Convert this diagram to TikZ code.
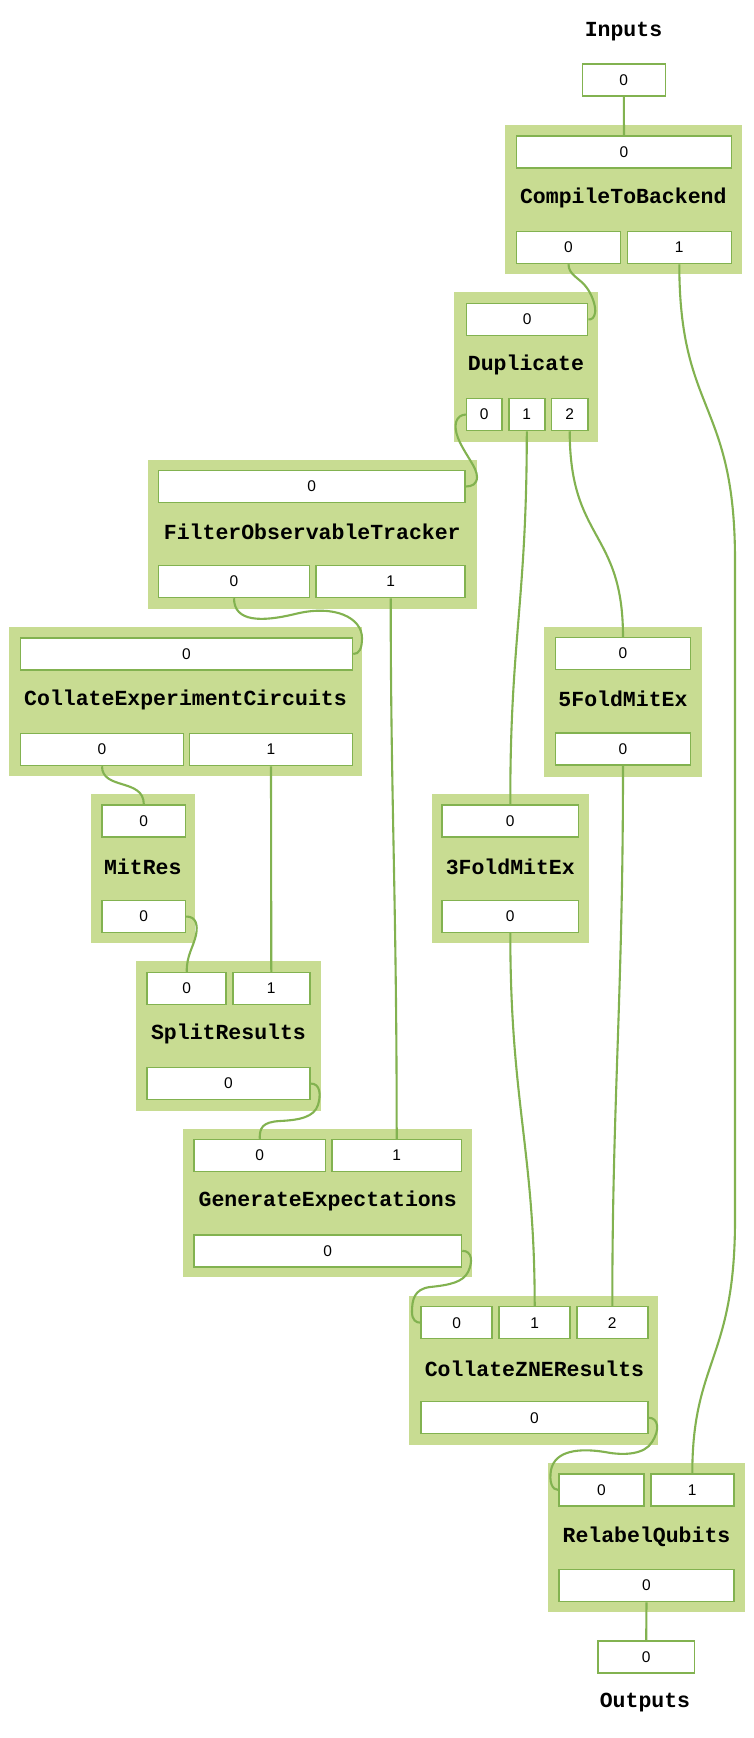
\documentclass[tikz,border=0pt]{standalone}
\usepackage{fontspec}
\setsansfont{Liberation Sans}
\setmonofont{Liberation Mono}
\definecolor{grpfill}{RGB}{200,220,146}
\definecolor{wire}{RGB}{130,178,80}
\begin{document}
\begin{tikzpicture}[x=1pt,y=-1pt,
  port/.style={draw=wire, line width=1.5pt, fill=white, inner sep=0pt, minimum height=32pt,
    font=\sffamily\fontsize{15.5}{17}\selectfont},
  grp/.style={fill=grpfill, draw=none, inner sep=0pt},
  ttl/.style={inner sep=0pt, font=\ttfamily\bfseries\fontsize{21.5}{24}\selectfont},
  wr/.style={draw=wire, line width=2.1pt}]
\useasboundingbox (0,0) rectangle (754,1738);
\fill[white] (0,0) rectangle (754,1738);

% ---------- groups ----------
\node[grp, minimum width=236.7pt, minimum height=149pt] (CTB) at (623.3,199.5) {};
\node[grp, minimum width=143.4pt, minimum height=150pt] (DUP) at (526,367) {};
\node[grp, minimum width=328.7pt, minimum height=149pt] (FOT) at (312.3,534.5) {};
\node[grp, minimum width=353pt, minimum height=149pt] (CEC) at (185.5,701.5) {};
\node[grp, minimum width=104.3pt, minimum height=149pt] (MR) at (142.8,868.5) {};
\node[grp, minimum width=157.4pt, minimum height=150pt] (F5) at (623,701.7) {};
\node[grp, minimum width=157.3pt, minimum height=149pt] (F3) at (510.3,868.8) {};
\node[grp, minimum width=184.7pt, minimum height=149.7pt] (SR) at (228.3,1035.8) {};
\node[grp, minimum width=289.3pt, minimum height=148pt] (GE) at (327.7,1202.7) {};
\node[grp, minimum width=248.4pt, minimum height=149.3pt] (CZR) at (533.5,1370.3) {};
\node[grp, minimum width=196.7pt, minimum height=149pt] (RQ) at (646.7,1537.8) {};

% ---------- titles ----------
\node[ttl] (tIn) at (623.5,32) {Inputs};
\node[ttl] (tOut) at (645,1703) {Outputs};
\node[ttl] (tCTB) at (623.3,198) {CompileToBackend};
\node[ttl] (tDUP) at (526,365) {Duplicate};
\node[ttl] (tFOT) at (312.3,531.7) {FilterObservableTracker};
\node[ttl] (tCEC) at (185.5,700) {CollateExperimentCircuits};
\node[ttl] (tMR) at (142.8,867) {MitRes};
\node[ttl] (tF5) at (623,699) {5FoldMitEx};
\node[ttl] (tF3) at (510.3,866.7) {3FoldMitEx};
\node[ttl] (tSR) at (228.5,1034) {SplitResults};
\node[ttl] (tGE) at (327.7,1200.7) {GenerateExpectations};
\node[ttl] (tCZR) at (534.5,1369) {CollateZNEResults};
\node[ttl] (tRQ) at (646.5,1536.7) {RelabelQubits};

% ---------- ports ----------
\node[port, minimum width=83pt] (Ip) at (623.8,80) {0};
\node[port, minimum width=215pt] (CTBi0) at (624,152) {0};
\node[port, minimum width=104pt] (CTBo0) at (568.5,247.5) {0};
\node[port, minimum width=104pt] (CTBo1) at (679.3,247.5) {1};

\node[port, minimum width=121pt] (DUPi0) at (527.2,319.5) {0};
\node[port, minimum width=35.3pt] (DUPo0) at (484.2,414.5) {0};
\node[port, minimum width=36pt] (DUPo1) at (526.8,414.5) {1};
\node[port, minimum width=36.3pt] (DUPo2) at (569.7,414.5) {2};

\node[port, minimum width=306.7pt] (FOTi0) at (311.8,486.5) {0};
\node[port, minimum width=151pt] (FOTo0) at (234,581.5) {0};
\node[port, minimum width=149pt] (FOTo1) at (390.7,581.5) {1};

\node[port, minimum width=332pt] (CECi0) at (186.5,654) {0};
\node[port, minimum width=163pt] (CECo0) at (102,749.5) {0};
\node[port, minimum width=163pt] (CECo1) at (271,749.5) {1};

\node[port, minimum width=83.3pt] (MRi0) at (143.8,821) {0};
\node[port, minimum width=83.3pt] (MRo0) at (143.8,916.5) {0};

\node[port, minimum width=135pt] (F5i0) at (623,653.5) {0};
\node[port, minimum width=135pt] (F5o0) at (623,749.2) {0};

\node[port, minimum width=136.3pt] (F3i0) at (510.3,821) {0};
\node[port, minimum width=136.3pt] (F3o0) at (510.3,916.3) {0};

\node[port, minimum width=79pt] (SRi0) at (186.7,988.5) {0};
\node[port, minimum width=77pt] (SRi1) at (271.3,988.5) {1};
\node[port, minimum width=162.6pt] (SRo0) at (228.5,1083.5) {0};

\node[port, minimum width=131.7pt] (GEi0) at (259.7,1155.5) {0};
\node[port, minimum width=129.7pt] (GEi1) at (396.7,1155.5) {1};
\node[port, minimum width=267.7pt] (GEo0) at (327.7,1250.8) {0};

\node[port, minimum width=71pt] (CZRi0) at (456.7,1322.7) {0};
\node[port, minimum width=71pt] (CZRi1) at (534.7,1322.7) {1};
\node[port, minimum width=71pt] (CZRi2) at (612.3,1322.7) {2};
\node[port, minimum width=226.6pt] (CZRo0) at (534.5,1417.7) {0};

\node[port, minimum width=84.6pt] (RQi0) at (601.5,1490) {0};
\node[port, minimum width=83pt] (RQi1) at (692.3,1490) {1};
\node[port, minimum width=174.6pt] (RQo0) at (646.5,1585.5) {0};

\node[port, minimum width=96.7pt] (Op) at (646.2,1657) {0};

% ---------- wires ----------
\draw[wr] (Ip.south) -- (CTBi0.north);
\draw[wr] (CTBo0.south) .. controls +(0,11) and (580,278) .. (587,288)
   .. controls (594,298) and (596,309) .. (595,313)
   .. controls (594,318) and (592,319.5) .. (DUPi0.east);
\draw[wr] (CTBo1.south) .. controls +(0,150) and (735,400) .. (735,560)
   -- (735,1220) .. controls (735,1360) and (692.3,1360) .. (RQi1.north);
\draw[wr] (DUPo0.west) .. controls +(-10,0.5) and (453,425) .. (458,438)
   .. controls (465,455) and (477,467) .. (477,477)
   .. controls (477,484) and (472,486.5) .. (FOTi0.east);
\draw[wr] (DUPo1.south) .. controls +(0,170) and (510,640) .. (F3i0.north);
\draw[wr] (DUPo2.south) .. controls +(0,110) and (623,530) .. (F5i0.north);
\draw[wr] (FOTo0.south) .. controls +(0,24) and (262,622) .. (295,614)
   .. controls (335,604) and (362,618) .. (362,638)
   .. controls (362,649) and (359,654) .. (CECi0.east);
\draw[wr] (FOTo1.south) .. controls +(0,200) and (396.7,900) .. (GEi1.north);
\draw[wr] (CECo0.south) .. controls +(0,24) and (143.8,778) .. (MRi0.north);
\draw[wr] (CECo1.south) -- (SRi1.north);
\draw[wr] (MRo0.east) .. controls +(10,0) and (198,925) .. (196,935)
   .. controls (193,948) and (186.7,955) .. (SRi0.north);
\draw[wr] (SRo0.east) .. controls +(10,0) and (321,1095) .. (318,1105)
   .. controls (314,1117) and (300,1120) .. (280,1121)
   .. controls (262,1122) and (259.7,1128) .. (GEi0.north);
\draw[wr] (F3o0.south) .. controls +(0,170) and (534.7,1150) .. (CZRi1.north);
\draw[wr] (F5o0.south) .. controls +(0,230) and (612.3,1100) .. (CZRi2.north);
\draw[wr] (GEo0.east) .. controls +(10,0) and (473,1262) .. (468,1272)
   .. controls (463,1282) and (450,1285) .. (430,1287)
   .. controls (414,1289) and (412,1300) .. (412,1312)
   .. controls (412,1320) and (416,1322.7) .. (CZRi0.west);
\draw[wr] (CZRo0.east) .. controls +(10,0) and (660,1430) .. (652,1442)
   .. controls (645,1454) and (625,1456) .. (605,1452)
   .. controls (580,1448) and (555,1450) .. (551,1470)
   .. controls (549,1482) and (552,1490) .. (RQi0.west);
\draw[wr] (RQo0.south) -- (Op.north);
\end{tikzpicture}
\end{document}
